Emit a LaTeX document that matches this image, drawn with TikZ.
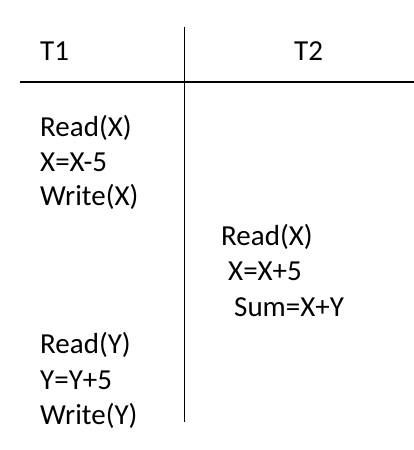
\documentclass[tikz,border=0pt]{standalone}
\usepackage{fontspec}
\setmainfont{Carlito}
\usetikzlibrary{positioning}

\begin{document}
\begin{tikzpicture}[x=1pt, y=-1pt, op/.style={anchor=base west, inner sep=0pt, font=\fontsize{29}{35}\selectfont}]
            \useasboundingbox (0,0) rectangle (414,450);

            % column heads
            \node[op] (t1) at (40,60) {T1};
            \node[op] (t2) at (294,60) {T2};

            % T1 operations
            \node[op] (r1) at (40,136.5) {Read(X)};
            \node[op] (c1) at (40,171) {X=X-5};
            \node[op] (w1) at (40,205.5) {Write(X)};

            % T2 operations
            \node[op] (r2) at (221,245) {Read(X)};
            \node[op] (c2) at (228,280) {X=X+5};
            \node[op] (s2) at (234,316) {Sum=X+Y};

            % T1 again
            \node[op] (r3) at (40,353) {Read(Y)};
            \node[op] (c3) at (40,389) {Y=Y+5};
            \node[op] (w3) at (40,424) {Write(Y)};

            % grid lines
            \coordinate (top) at (184.5,27);
            \coordinate (bot) at (184.5,422);
            \coordinate (west) at (20,82);
            \coordinate (east) at (414,82);
            \draw[line width=1.2pt] (top) -- (bot);
            \draw[line width=1.2pt] (west) -- (east);

        \end{tikzpicture}
\end{document}
